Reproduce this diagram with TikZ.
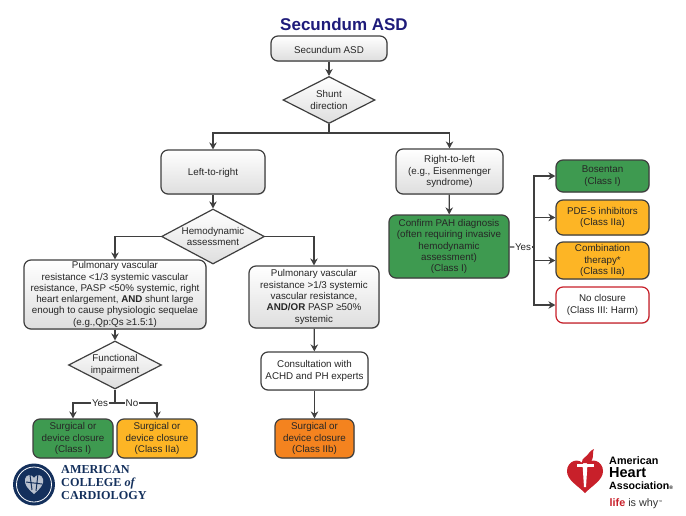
\documentclass[tikz,border=0pt]{standalone}
\usepackage{fontspec}
\setmainfont{Liberation Sans}
\newfontfamily\accfont{Liberation Serif}
\usetikzlibrary{shapes.geometric,shadows,arrows.meta}
\definecolor{titleblue}{HTML}{1E1B7A}
\definecolor{accblue}{HTML}{14305C}
\definecolor{ahared}{HTML}{C8202A}
\definecolor{edgegray}{HTML}{3F3F3F}
\definecolor{classone}{HTML}{3E9A50}
\definecolor{classtwoa}{HTML}{FDB525}
\definecolor{classtwob}{HTML}{F4831F}

\begin{document}
\begin{tikzpicture}[x=1pt,y=-1pt]
\tikzstyle{every node}=[font=\fontsize{9.8}{11.3}\selectfont,text=black!85,align=center,inner sep=0pt];
\tikzstyle{box}=[draw=edgegray,line width=1.2pt,rounded corners=7pt,execute at begin node={\rule{0pt}{10pt}},drop shadow={shadow xshift=0.7pt,shadow yshift=-0.7pt,opacity=0.45}];
\tikzstyle{graybox}=[box,top color=white,bottom color=black!13];
\tikzstyle{whitebox}=[box,fill=white];
\tikzstyle{greenbox}=[box,fill=classone];
\tikzstyle{yellowbox}=[box,fill=classtwoa];
\tikzstyle{orangebox}=[box,fill=classtwob];
\tikzstyle{redbox}=[box,draw=ahared,fill=white];
\tikzstyle{question}=[shape=diamond,aspect=1.9,draw=edgegray,line width=1.2pt,top color=white,bottom color=black!13];
\tikzstyle{flow}=[draw=edgegray,line width=1.2pt,-{Stealth[length=7pt,width=7.5pt]}];
\tikzstyle{plain}=[draw=edgegray,line width=1.2pt];
\tikzstyle{branch}=[fill=white,inner xsep=0.5pt,inner ysep=0.5pt];
\useasboundingbox (0,0) rectangle (686,515);

\node[font=\fontsize{17}{20}\selectfont\bfseries,text=titleblue] (title) at (344,24) {Secundum ASD};

\node[graybox,minimum width=116pt,minimum height=25pt] (start) at (329,48.5) {Secundum ASD};
\node[question,minimum width=92pt,minimum height=47pt] (shunt) at (329,100) {Shunt\\direction};
\coordinate (splitshunt) at (329,133);

\node[graybox,minimum width=104pt,minimum height=44pt] (ltr) at (213,172) {Left-to-right};
\node[question,minimum width=103pt,minimum height=55pt] (hemo) at (213,236.5) {Hemodynamic\\assessment};
\node[graybox,minimum width=182pt,minimum height=69pt] (lowpvr) at (115,294.5) {Pulmonary vascular\\resistance <1/3 systemic vascular\\resistance, PASP <50\% systemic, right\\heart enlargement, \textbf{AND} shunt large\\enough to cause physiologic sequelae\\(e.g.,Qp:Qs ≥1.5:1)};
\node[graybox,minimum width=130pt,minimum height=62pt] (highpvr) at (314,297) {Pulmonary vascular\\resistance >1/3 systemic\\vascular resistance,\\\textbf{AND/OR} PASP ≥50\%\\systemic};
\node[question,minimum width=93pt,minimum height=48pt] (func) at (115,365) {Functional\\impairment};
\coordinate (splitfunc) at (115,403);
\node[branch] (yesfunc) at (100,403) {Yes};
\node[branch] (nofunc) at (132,403) {No};
\node[greenbox,minimum width=80pt,minimum height=39pt] (closeone) at (73,438.5) {Surgical or\\device closure\\(Class I)};
\node[yellowbox,minimum width=80pt,minimum height=39pt] (closetwoa) at (157,438.5) {Surgical or\\device closure\\(Class IIa)};
\node[whitebox,minimum width=107pt,minimum height=38pt] (consult) at (314.5,371) {Consultation with\\ACHD and PH experts};
\node[orangebox,minimum width=79pt,minimum height=39pt] (closetwob) at (314.5,438.5) {Surgical or\\device closure\\(Class IIb)};

\node[graybox,minimum width=107pt,minimum height=45pt] (rtl) at (449.5,171.5) {Right-to-left\\(e.g., Eisenmenger\\syndrome)};
\node[greenbox,minimum width=120pt,minimum height=63pt] (confirm) at (449,246.5) {Confirm PAH diagnosis\\(often requiring invasive\\hemodynamic\\assessment)\\(Class I)};
\node[branch] (yespah) at (523,247) {Yes};
\coordinate (splitpah) at (534,247);
\node[greenbox,minimum width=93pt,minimum height=32pt] (bosentan) at (602.5,176) {Bosentan\\(Class I)};
\node[yellowbox,minimum width=93pt,minimum height=35pt] (pde) at (602.5,217.5) {PDE-5 inhibitors\\(Class IIa)};
\node[yellowbox,minimum width=93pt,minimum height=37pt] (combo) at (602.5,260.5) {Combination\\therapy*\\(Class IIa)};
\node[redbox,minimum width=93pt,minimum height=36pt] (noclose) at (602.5,305) {No closure\\(Class III: Harm)};

\draw[flow] (start) -- (shunt);
\draw[plain] (shunt) -- (splitshunt);
\draw[flow] (splitshunt) -| (ltr);
\draw[flow] (splitshunt) -| (rtl);
\draw[flow] (ltr) -- (hemo);
\draw[flow] (hemo.west) -| (lowpvr);
\draw[flow] (hemo.east) -| (highpvr);
\draw[flow] (lowpvr) -- (func);
\draw[plain] (func) -- (splitfunc);
\draw[plain] (splitfunc) -- (yesfunc);
\draw[plain] (splitfunc) -- (nofunc);
\draw[flow] (yesfunc) -| (closeone);
\draw[flow] (nofunc) -| (closetwoa);
\draw[flow] (highpvr) -- (consult);
\draw[flow] (consult) -- (closetwob);
\draw[flow] (rtl) -- (confirm);
\draw[plain] (confirm) -- (yespah);
\draw[plain] (yespah) -- (splitpah);
\draw[flow] (splitpah) |- (bosentan);
\draw[flow] (splitpah) |- (pde);
\draw[flow] (splitpah) |- (combo);
\draw[flow] (splitpah) |- (noclose);

% college seal
\fill[accblue] (34,484.5) circle (21);
\draw[white,line width=0.8pt] (34,484.5) circle (17.5);
\fill[white!70!accblue] (34,494) .. controls (27,488) and (24,484) .. (25,479) .. controls (26,474) and (32,474) .. (34,478) .. controls (36,474) and (42,474) .. (43,479) .. controls (44,484) and (41,488) .. (34,494) -- cycle;
\draw[accblue,line width=1pt] (30,475) -- (32,490) (38,474) -- (36,491) (26,482) -- (42,484);
\node[font=\accfont\fontsize{12.2}{13}\selectfont\bfseries,text=accblue,align=left,anchor=west] (college) at (61,483) {AMERICAN\\COLLEGE \textit{of}\\CARDIOLOGY};

% heart and torch
\fill[ahared] (585,493) .. controls (577,485) and (567,480) .. (567,471) .. controls (567,461) and (579,456) .. (585,466) .. controls (591,456) and (603,461) .. (603,471) .. controls (603,480) and (593,485) .. (585,493) -- cycle;
\fill[ahared] (582,463) .. controls (581,458) and (587,457) .. (589,453) .. controls (590,451) and (592,450) .. (594,449) .. controls (592,452) and (594,456) .. (592,460) .. controls (591,462) and (590,463) .. (589,463) -- cycle;
\fill[white] (577,464) rectangle (594,467);
\fill[white] (582.5,464) -- (587.5,464) -- (586,487) -- (584,487) -- cycle;
\node[font=\fontsize{10.8}{12}\selectfont\bfseries,text=black,anchor=west] (american) at (609,460.5) {American};
\node[font=\fontsize{14.5}{15}\selectfont\bfseries,text=black,anchor=west] (heart) at (609,473) {Heart};
\node[font=\fontsize{10.6}{12}\selectfont\bfseries,text=black,anchor=west] (association) at (609,486) {Association{\fontsize{5}{5}\selectfont ®}};
\node[font=\fontsize{10.8}{12}\selectfont,text=black!80,anchor=west] (lifewhy) at (609.5,504) {\textcolor{ahared}{\textbf{life}} is why{\fontsize{4}{4}\selectfont\raisebox{3pt}{™}}};
\end{tikzpicture}
\end{document}
